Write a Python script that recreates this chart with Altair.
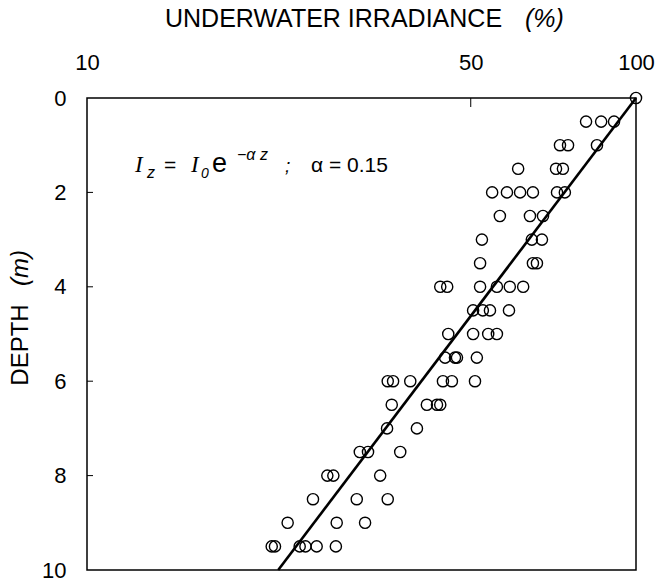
import altair as alt
import pandas as pd

# Observations: depth (m) and underwater irradiance (% of surface)
depth_levels = [0, 0.5, 1, 1.5, 2, 2.5, 3, 3.5, 4, 4.5, 5, 5.5, 6, 6.5, 7, 7.5, 8, 8.5, 9, 9.5]
irradiance_by_level = [
    [100],
    [81.1, 86.4, 91.2],
    [72.7, 75.2, 84.9],
    [61.0, 71.5, 73.6],
    [54.7, 58.2, 61.5, 64.9, 71.8, 74.2],
    [56.5, 64.1, 67.7],
    [52.4, 64.6, 67.4],
    [52.0, 64.9, 66.0],
    [44.0, 45.3, 52.0, 55.8, 58.9, 62.3],
    [50.5, 52.6, 54.2, 58.7],
    [45.5, 50.5, 53.8, 55.8],
    [44.9, 46.8, 47.2, 51.3],
    [35.3, 36.1, 38.8, 44.5, 46.2, 50.9],
    [35.9, 41.6, 43.4, 44.0],
    [35.2, 39.9],
    [31.4, 32.5, 37.2],
    [27.4, 28.1, 34.2],
    [25.8, 31.0, 35.3],
    [23.2, 28.5, 32.1],
    [21.7, 22.0, 24.4, 25.0, 26.2, 28.4],
]

# Fitted line I_z = I_0 exp(-0.15 z): end points
fit_depth = [0, 10]
fit_irradiance = [100, 22.3]

x_tick_values = [10, 50, 100]
y_tick_values = [0, 2, 4, 6, 8, 10]
inner_y_ticks = [2, 4, 6, 8]
inner_x_ticks = [50]

rows = []
for d, vals in zip(depth_levels, irradiance_by_level):
    for v in vals:
        rows.append({"depth": d, "irr": v})
obs = pd.DataFrame(rows)
fit = pd.DataFrame({"depth": fit_depth, "irr": fit_irradiance})

SANS = "Liberation Sans"
SERIF = "Liberation Serif"

xscale = alt.Scale(type="log", domain=[10, 100], nice=False)
yscale = alt.Scale(domain=[0, 10], reverse=True, nice=False)

xenc = alt.X("irr:Q", scale=xscale, title=None,
             axis=alt.Axis(orient="top", values=x_tick_values, format="d",
                           labelFontSize=22, labelFont=SANS, labelColor="black",
                           labelPadding=24, ticks=False, tickSize=0, domain=False,
                           grid=False, labelFlush=False, labelOverlap=False))
yenc = alt.Y("depth:Q", scale=yscale, title=None,
             axis=alt.Axis(values=y_tick_values, labelFontSize=22, labelFont=SANS,
                           labelColor="black", labelPadding=21, ticks=False,
                           tickSize=0, domain=False, grid=False,
                           labelFlush=False, labelOverlap=False))

points = alt.Chart(obs).mark_point(
    shape="circle", filled=False, size=125, stroke="black", strokeWidth=1.4, opacity=1
).encode(x=xenc, y=yenc)

line = alt.Chart(fit).mark_line(color="black", strokeWidth=2.6).encode(
    x=alt.X("irr:Q", scale=xscale), y=alt.Y("depth:Q", scale=yscale))

yt = alt.Chart(pd.DataFrame({"d": inner_y_ticks})).mark_rule(
    color="black", strokeWidth=1).encode(
    y=alt.Y("d:Q", scale=yscale), x=alt.value(0), x2=alt.value(6))
xt = alt.Chart(pd.DataFrame({"v": inner_x_ticks})).mark_rule(
    color="black", strokeWidth=1).encode(
    x=alt.X("v:Q", scale=xscale), y=alt.value(0), y2=alt.value(9))

one = alt.Data(values=[{}])


def txt(text, x, y, size, font=SANS, style="normal", angle=0, align="left",
        baseline="alphabetic"):
    return alt.Chart(one).mark_text(
        text=text, font=font, fontSize=size, fontStyle=style, angle=angle,
        align=align, baseline=baseline, color="black"
    ).encode(x=alt.value(x), y=alt.value(y))


texts = [
    txt("UNDERWATER  IRRADIANCE", 78, -71, 25),
    txt("(%)", 438, -71, 25, style="italic"),
    txt("DEPTH", -66, 247, 24, angle=270, align="center", baseline="middle"),
    txt("(m)", -66, 170, 24, style="italic", angle=270, align="center",
        baseline="middle"),
    txt("I", 48, 74, 23, font=SERIF, style="italic"),
    txt("z", 60, 80, 16, font=SANS, style="italic"),
    txt("=", 77, 74, 21),
    txt("I", 104, 74, 23, font=SERIF, style="italic"),
    txt("0", 114, 80, 14, font=SANS, style="italic"),
    txt("e", 125, 74, 27, font=SANS),
    txt("\u2212\u03b1 z", 150, 62, 16, font=SANS, style="italic"),
    txt(";", 198, 74, 19, font=SANS, style="italic"),
    txt("\u03b1 = 0.15", 224, 74, 21),
]

chart = alt.layer(points, line, yt, xt, *texts).properties(
    width=549, height=472,
    autosize=alt.AutoSizeParams(type="none"),
    padding={"left": 87, "top": 98, "right": 22, "bottom": 8},
    background="white",
).configure_view(stroke="black", strokeWidth=1.5)

chart.save("out.html", embed_options={"renderer": "svg", "actions": False})
